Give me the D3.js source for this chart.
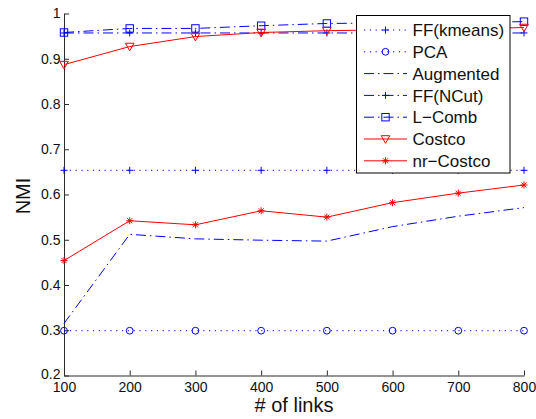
<!DOCTYPE html>
<html>
<head>
<meta charset="utf-8">
<script src="https://cdn.jsdelivr.net/npm/d3@7"></script>
<style>
  html, body { margin: 0; padding: 0; background: #fff; }
  svg { display: block; font-family: "Liberation Sans", Arial, sans-serif; }
</style>
</head>
<body>
<svg id="chart" width="536" height="419"></svg>
<script>
// Number of links on the x axis
const links = [100, 200, 300, 400, 500, 600, 700, 800];

// NMI for each method
const ffKmeans  = [0.6535, 0.6535, 0.6535, 0.6535, 0.6535, 0.6535, 0.6535, 0.6535];
const pca       = [0.299, 0.299, 0.299, 0.299, 0.299, 0.299, 0.299, 0.299];
const augmented = [0.315, 0.512, 0.502, 0.499, 0.497, 0.529, 0.552, 0.571];
const ffNcut    = [0.957, 0.957, 0.957, 0.957, 0.957, 0.957, 0.957, 0.957];
const lComb     = [0.958, 0.967, 0.967, 0.973, 0.978, 0.979, 0.980, 0.982];
const costco    = [0.887, 0.927, 0.949, 0.958, 0.962, 0.964, 0.966, 0.969];
const nrCostco  = [0.454, 0.542, 0.533, 0.564, 0.550, 0.582, 0.603, 0.621];

const seriesNames = ["FF(kmeans)", "PCA", "Augmented", "FF(NCut)", "L\u2212Comb", "Costco", "nr\u2212Costco"];
const xTicks = [100, 200, 300, 400, 500, 600, 700, 800];
const yTicks = [0.2, 0.3, 0.4, 0.5, 0.6, 0.7, 0.8, 0.9, 1];
const yTickLabels = ["0.2", "0.3", "0.4", "0.5", "0.6", "0.7", "0.8", "0.9", "1"];

const BLUE = "#0000ff", RED = "#ff0000";
const DOT = "1.2,4.6", DASHDOT = "10,4,1.5,4";

const series = [
  { name: seriesNames[0], values: ffKmeans,  color: BLUE, dash: DOT,     marker: "plus" },
  { name: seriesNames[1], values: pca,       color: BLUE, dash: DOT,     marker: "circle" },
  { name: seriesNames[2], values: augmented, color: BLUE, dash: DASHDOT, marker: null },
  { name: seriesNames[3], values: ffNcut,    color: BLUE, dash: DASHDOT, marker: "plus" },
  { name: seriesNames[4], values: lComb,     color: BLUE, dash: DASHDOT, marker: "square" },
  { name: seriesNames[5], values: costco,    color: RED,  dash: null,    marker: "triangle" },
  { name: seriesNames[6], values: nrCostco,  color: RED,  dash: null,    marker: "asterisk" }
];

const svg = d3.select("#chart");
const x = d3.scaleLinear().domain([100, 800]).range([64, 524]);
const y = d3.scaleLinear().domain([0.2, 1]).range([375.5, 13.5]);

// Axes with inward ticks, no box
const axisColor = "#2b2b2b";
const gx = svg.append("g").attr("transform", `translate(0,${y(0.2)})`)
  .call(d3.axisBottom(x).tickValues(xTicks).tickFormat(d3.format("d"))
    .tickSizeInner(-5).tickSizeOuter(0).tickPadding(7));
const gy = svg.append("g").attr("transform", `translate(${x(100)},0)`)
  .call(d3.axisLeft(y).tickValues(yTicks).tickFormat((d, i) => yTickLabels[i])
    .tickSizeInner(-5).tickSizeOuter(0).tickPadding(3.5));
[gx, gy].forEach(g => {
  g.select(".domain").attr("stroke", axisColor).attr("stroke-width", 1);
  g.selectAll(".tick line").attr("stroke", axisColor).attr("stroke-width", 1);
  g.selectAll(".tick text").attr("fill", "#111").style("font-size", "14px")
    .style("font-family", "'Liberation Sans', Arial, sans-serif");
});
// lowest y label sits just above the corner
gy.selectAll(".tick text").filter(d => d === 0.2).attr("dy", "0.2em");

// Axis titles
svg.append("text").attr("x", 294).attr("y", 412).attr("text-anchor", "middle")
  .style("font-size", "20px").attr("fill", "#111").text("# of links");
svg.append("text").attr("transform", "translate(30,196) rotate(-90)").attr("text-anchor", "middle")
  .style("font-size", "20px").attr("fill", "#111").text("NMI");

// Marker shapes
function drawMarker(g, type, cx, cy, color) {
  const s = g.append("g").attr("transform", `translate(${cx},${cy})`)
    .attr("fill", "none").attr("stroke", color).attr("stroke-width", 1);
  if (type === "plus") {
    s.append("path").attr("d", "M-3.5,0H3.5M0,-3.5V3.5");
  } else if (type === "circle") {
    s.append("circle").attr("r", 3.4);
  } else if (type === "square") {
    s.append("rect").attr("x", -3.7).attr("y", -3.7).attr("width", 7.4).attr("height", 7.4);
  } else if (type === "triangle") {
    s.append("path").attr("d", "M-4.3,-3.3L4.3,-3.3L0,4.3Z");
  } else if (type === "asterisk") {
    s.append("path").attr("d", "M-3.5,0H3.5M0,-3.5V3.5M-2.5,-2.5L2.5,2.5M-2.5,2.5L2.5,-2.5");
  }
}

const line = d3.line().x((d, i) => x(links[i])).y(d => y(d));
const plot = svg.append("g");
series.forEach(s => {
  const p = plot.append("path").datum(s.values).attr("d", line)
    .attr("fill", "none").attr("stroke", s.color).attr("stroke-width", 1);
  if (s.dash) p.attr("stroke-dasharray", s.dash);
  if (s.marker) s.values.forEach((v, i) => drawMarker(plot, s.marker, x(links[i]), y(v), s.color));
});

// Legend
const lg = svg.append("g");
lg.append("rect").attr("x", 356.5).attr("y", 15.5).attr("width", 153.5).attr("height", 157.5)
  .attr("fill", "#fff").attr("stroke", "#000").attr("stroke-width", 1);
series.forEach((s, i) => {
  const ly = 30 + i * 21.8;
  const l = lg.append("line").attr("x1", 364).attr("x2", 407).attr("y1", ly).attr("y2", ly)
    .attr("stroke", s.color).attr("stroke-width", 1);
  if (s.dash) l.attr("stroke-dasharray", s.dash);
  if (s.marker) drawMarker(lg, s.marker, 385.5, ly, s.color);
  lg.append("text").attr("x", 412.5).attr("y", ly).attr("dy", "0.36em")
    .style("font-size", "17px").attr("fill", "#111").text(s.name);
});
</script>
</body>
</html>
